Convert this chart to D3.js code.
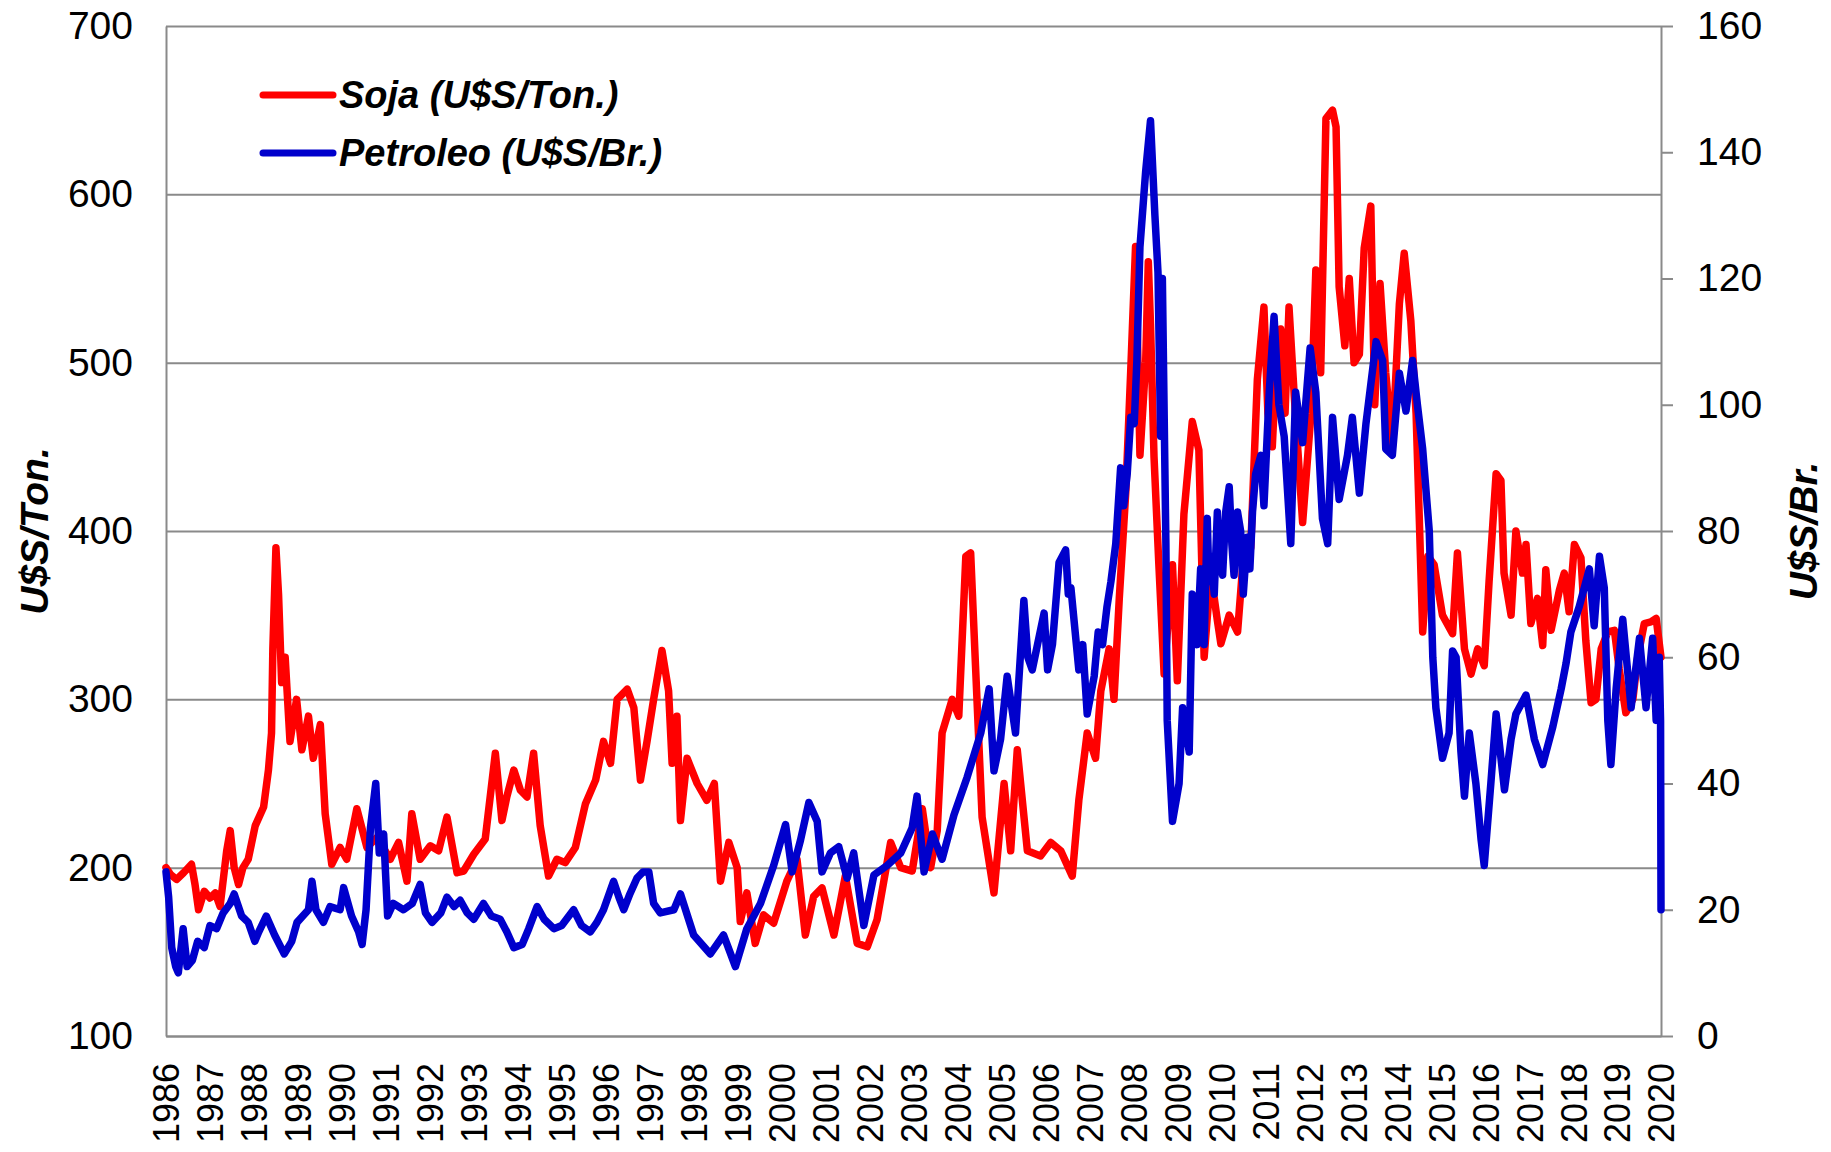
<!DOCTYPE html>
<html>
<head>
<meta charset="utf-8">
<script src="https://cdn.jsdelivr.net/npm/d3@7"></script>
<style>
  body { margin: 0; background: #fff; }
  svg { display: block; font-family: "Liberation Sans", Arial, sans-serif; }
  .axis path, .axis line { stroke: #8a8a8a; stroke-width: 2px; }
  .axis text { fill: #000; }
  .serie { fill: none; stroke-width: 7.5px; stroke-linejoin: round; stroke-linecap: round; }
  .titulo { font-weight: bold; font-style: italic; font-size: 39px; }
</style>
</head>
<body>
<svg width="1831" height="1152"></svg>
<script>
// años del eje x
var years = d3.range(1986, 2021);
var leftTicks = [100, 200, 300, 400, 500, 600, 700];
var rightTicks = [0, 20, 40, 60, 80, 100, 120, 140, 160];
var names = ["Soja (U$S/Ton.)", "Petroleo (U$S/Br.)"];
var colores = ["#ff0000", "#0000cc"];

// soja U$S/Ton. [año, valor]
var soja = [
  [1986.00,200],[1986.10,196],[1986.24,193],[1986.40,197],[1986.58,202],[1986.66,190],[1986.74,175],
  [1986.87,186],[1987.00,182],[1987.12,185],[1987.23,177],[1987.38,210],[1987.46,222],[1987.55,200],
  [1987.65,190],[1987.75,200],[1987.87,205],[1988.03,225],[1988.22,236],[1988.33,258],[1988.40,280],
  [1988.43,330],[1988.50,390],[1988.56,362],[1988.63,310],[1988.71,325],[1988.82,275],[1988.97,300],
  [1989.09,270],[1989.24,290],[1989.35,265],[1989.51,285],[1989.62,232],[1989.77,202],[1989.96,212],
  [1990.11,205],[1990.34,235],[1990.57,212],[1990.80,218],[1991.10,205],[1991.29,215],[1991.48,192],
  [1991.59,232],[1991.78,205],[1992.01,213],[1992.20,210],[1992.39,230],[1992.62,197],[1992.77,198],
  [1993.00,208],[1993.26,217],[1993.49,268],[1993.64,228],[1993.75,242],[1993.91,258],[1994.06,246],
  [1994.21,242],[1994.36,268],[1994.51,225],[1994.70,195],[1994.89,205],[1995.08,203],[1995.31,212],
  [1995.54,238],[1995.77,252],[1995.95,275],[1996.11,262],[1996.26,300],[1996.49,306],[1996.64,295],
  [1996.79,252],[1996.94,275],[1997.09,300],[1997.28,329],[1997.43,305],[1997.51,262],[1997.62,290],
  [1997.70,228],[1997.85,265],[1998.08,250],[1998.30,240],[1998.47,250],[1998.61,192],[1998.80,215],
  [1998.99,200],[1999.06,168],[1999.21,185],[1999.40,155],[1999.59,172],[1999.82,167],[2000.12,192],
  [2000.35,205],[2000.54,160],[2000.73,183],[2000.92,188],[2001.19,160],[2001.45,195],[2001.72,155],
  [2001.95,153],[2002.17,169],[2002.48,215],[2002.71,200],[2002.97,198],[2003.20,235],[2003.39,200],
  [2003.54,222],[2003.65,280],[2003.88,300],[2004.03,290],[2004.19,385],[2004.30,387],[2004.41,320],
  [2004.56,230],[2004.83,185],[2005.06,250],[2005.21,210],[2005.36,270],[2005.59,210],[2005.89,207],
  [2006.12,215],[2006.35,210],[2006.61,195],[2006.76,240],[2006.95,280],[2007.14,265],[2007.26,305],
  [2007.45,330],[2007.56,300],[2007.68,360],[2007.83,424],[2007.94,495],[2008.05,569],[2008.15,445],
  [2008.28,500],[2008.34,560],[2008.39,523],[2008.47,444],[2008.58,380],[2008.70,315],[2008.89,380],
  [2009.00,311],[2009.15,410],[2009.34,465],[2009.49,448],[2009.61,325],[2009.76,375],[2009.91,347],
  [2009.99,333],[2010.18,350],[2010.37,340],[2010.52,390],[2010.67,390],[2010.82,490],[2010.97,533],
  [2011.06,470],[2011.16,450],[2011.25,500],[2011.35,520],[2011.45,470],[2011.54,533],[2011.66,480],
  [2011.85,405],[2012.04,470],[2012.15,555],[2012.26,494],[2012.38,645],[2012.53,650],[2012.61,640],
  [2012.68,545],[2012.81,510],[2012.91,550],[2013.02,500],[2013.14,505],[2013.25,568],[2013.40,593],
  [2013.49,475],[2013.61,547],[2013.74,494],[2013.89,450],[2014.05,535],[2014.16,565],[2014.31,525],
  [2014.43,470],[2014.50,410],[2014.58,340],[2014.70,385],[2014.84,380],[2015.03,350],[2015.26,339],
  [2015.37,387],[2015.53,330],[2015.68,315],[2015.83,330],[2015.98,320],[2016.09,370],[2016.25,434],
  [2016.36,430],[2016.43,375],[2016.59,350],[2016.70,400],[2016.85,375],[2016.93,392],[2017.04,345],
  [2017.19,360],[2017.31,332],[2017.38,377],[2017.50,341],[2017.69,365],[2017.80,375],[2017.91,352],
  [2018.03,392],[2018.18,384],[2018.29,335],[2018.41,298],[2018.52,300],[2018.64,330],[2018.79,340],
  [2018.94,341],[2019.05,318],[2019.20,292],[2019.36,300],[2019.47,325],[2019.62,345],[2019.77,346],
  [2019.89,348],[2020.00,325]
];

// petroleo U$S/Br. [año, valor]
var petroleo = [
  [1986.00,26],[1986.06,22],[1986.13,14],[1986.22,11],[1986.28,10],[1986.39,17],[1986.48,11],
  [1986.60,12],[1986.72,15],[1986.87,14],[1987.00,17.5],[1987.15,17],[1987.30,19.5],[1987.46,21],
  [1987.55,22.5],[1987.72,19],[1987.87,18],[1988.02,15],[1988.11,16.5],[1988.28,19],[1988.47,16],
  [1988.69,13],[1988.86,15],[1988.98,18],[1989.24,20],[1989.32,24.5],[1989.41,20],[1989.58,18],
  [1989.73,20.5],[1989.96,20],[1990.04,23.5],[1990.22,19],[1990.38,16.5],[1990.46,14.5],[1990.55,20],
  [1990.65,33],[1990.77,40],[1990.85,29],[1990.95,32],[1991.04,19],[1991.17,21],[1991.40,20],
  [1991.60,21],[1991.78,24],[1991.90,19.5],[1992.05,18],[1992.25,19.5],[1992.39,22],[1992.55,20.5],
  [1992.69,21.5],[1992.85,19.5],[1993.00,18.5],[1993.22,21],[1993.40,19],[1993.60,18.5],[1993.75,16.5],
  [1993.91,14],[1994.10,14.5],[1994.25,17],[1994.44,20.5],[1994.60,18.5],[1994.82,17],[1995.00,17.5],
  [1995.27,20],[1995.45,17.5],[1995.65,16.5],[1995.80,18],[1995.95,20],[1996.18,24.5],[1996.30,22],
  [1996.41,20],[1996.55,22.5],[1996.71,25],[1996.85,26],[1996.98,26],[1997.09,21],[1997.24,19.5],
  [1997.55,20],[1997.70,22.5],[1998.00,16],[1998.38,13],[1998.68,16],[1998.95,11],[1999.21,17],
  [1999.52,21],[1999.82,27],[2000.09,33.5],[2000.24,26],[2000.43,31],[2000.62,37],[2000.81,34],
  [2000.92,26],[2001.11,29],[2001.30,30],[2001.49,25],[2001.64,29],[2001.87,17.5],[2002.10,25.5],
  [2002.40,27],[2002.71,29],[2002.97,33],[2003.08,38],[2003.24,26],[2003.43,32],[2003.65,28],
  [2003.92,35],[2004.22,41],[2004.53,48],[2004.72,55],[2004.83,42],[2004.98,47],[2005.13,57],
  [2005.32,48],[2005.51,69],[2005.60,60],[2005.70,58],[2005.85,63],[2005.97,67],[2006.05,58],
  [2006.16,62],[2006.31,75],[2006.46,77],[2006.52,70],[2006.58,71],[2006.76,58],[2006.85,62],
  [2006.95,51],[2007.11,57],[2007.20,64],[2007.30,62],[2007.40,68],[2007.49,72],[2007.60,78],
  [2007.71,90],[2007.78,84],[2007.86,89],[2007.94,98],[2008.02,97],[2008.08,107],[2008.15,125],
  [2008.28,137],[2008.39,145],[2008.49,130],[2008.56,121],[2008.62,95],[2008.66,120],[2008.74,78],
  [2008.77,50],[2008.89,34],[2009.04,40],[2009.12,52],[2009.27,45],[2009.34,70],[2009.45,62],
  [2009.53,74],[2009.58,66],[2009.61,62],[2009.68,82],[2009.72,72],[2009.76,76],[2009.84,70],
  [2009.91,83],[2009.97,75],[2010.03,73],[2010.10,83],[2010.18,87],[2010.24,78],[2010.29,73],
  [2010.37,83],[2010.44,80],[2010.50,70],[2010.59,79],[2010.65,74],[2010.71,83],[2010.78,89],
  [2010.90,92],[2010.97,84],[2011.09,102],[2011.20,114],[2011.31,100],[2011.43,95],[2011.58,78],
  [2011.69,102],[2011.85,94],[2012.02,109],[2012.15,102],[2012.30,82],[2012.42,78],[2012.53,98],
  [2012.68,85],[2012.87,92],[2012.98,98],[2013.14,86],[2013.29,97],[2013.52,110],[2013.67,107],
  [2013.74,93],[2013.89,92],[2014.05,105],[2014.20,99],[2014.35,107],[2014.46,100],[2014.58,93],
  [2014.73,80],[2014.81,60],[2014.88,52],[2015.03,44],[2015.18,48],[2015.26,61],[2015.34,60],
  [2015.45,45],[2015.53,38],[2015.64,48],[2015.79,40],[2015.91,31],[2015.98,27],[2016.13,40],
  [2016.25,51],[2016.44,39],[2016.59,47],[2016.70,51],[2016.93,54],[2017.12,47],[2017.31,43],
  [2017.54,49],[2017.73,55],[2017.84,59],[2017.95,64],[2018.14,68],[2018.37,74],[2018.48,65],
  [2018.60,76],[2018.71,71],[2018.79,50],[2018.86,43],[2018.98,55],[2019.13,66],[2019.32,52],
  [2019.51,63],[2019.66,52],[2019.81,63],[2019.89,50],[2019.96,60],[2019.99,50],[2020.00,20]
];

var svg = d3.select("svg"),
    margin = {top: 26, right: 170, bottom: 116, left: 166},
    width = +svg.attr("width") - margin.left - margin.right,
    height = +svg.attr("height") - margin.top - margin.bottom;

var x = d3.scaleLinear().domain([1986, 2020]).range([0, width]);
var yL = d3.scaleLinear().domain([100, 700]).range([height, 0]);
var yR = d3.scaleLinear().domain([0, 160]).range([height, 0]);

var g = svg.append("g").attr("transform", "translate(" + margin.left + "," + margin.top + ")");

// eje izquierdo con grilla
g.append("g")
    .attr("class", "axis")
    .call(d3.axisLeft(yL).tickValues(leftTicks).tickSizeInner(-width).tickSizeOuter(0).tickPadding(33))
    .selectAll("text")
    .style("font-size", "39px");

// eje derecho
g.append("g")
    .attr("class", "axis")
    .attr("transform", "translate(" + width + ",0)")
    .call(d3.axisRight(yR).tickValues(rightTicks).tickSize(12).tickSizeOuter(0).tickPadding(24))
    .selectAll("text")
    .style("font-size", "39px");

// eje x
g.append("g")
    .attr("class", "axis")
    .attr("transform", "translate(0," + height + ")")
    .call(d3.axisBottom(x).tickValues(years).tickSize(0).tickFormat(d3.format("d")))
    .selectAll("text")
    .style("font-size", "36px")
    .style("text-anchor", "end")
    .attr("x", -27)
    .attr("y", 0)
    .attr("dy", "0.36em")
    .attr("transform", "rotate(-90)");

var lineL = d3.line().x(function(d) { return x(d[0]); }).y(function(d) { return yL(d[1]); });
var lineR = d3.line().x(function(d) { return x(d[0]); }).y(function(d) { return yR(d[1]); });

g.append("path").datum(soja).attr("class", "serie").attr("stroke", colores[0]).attr("d", lineL);
g.append("path").datum(petroleo).attr("class", "serie").attr("stroke", colores[1]).attr("d", lineR);

// leyenda
for (var i = 0; i < names.length; i++) {
    var ly = 95 + i * 58;
    svg.append("line")
        .attr("x1", 263).attr("x2", 333)
        .attr("y1", ly).attr("y2", ly)
        .attr("stroke", colores[i])
        .attr("stroke-width", 7)
        .attr("stroke-linecap", "round");
    svg.append("text")
        .attr("class", "titulo")
        .attr("x", 339)
        .attr("y", ly + 13)
        .style("font-size", "38px")
        .text(names[i]);
}

// titulos de ejes
svg.append("text")
    .attr("class", "titulo")
    .attr("transform", "translate(48," + (margin.top + height / 2) + ") rotate(-90)")
    .style("text-anchor", "middle")
    .text("U$S/Ton.");

svg.append("text")
    .attr("class", "titulo")
    .attr("transform", "translate(1817," + (margin.top + height / 2) + ") rotate(-90)")
    .style("text-anchor", "middle")
    .text("U$S/Br.");
</script>
</body>
</html>
